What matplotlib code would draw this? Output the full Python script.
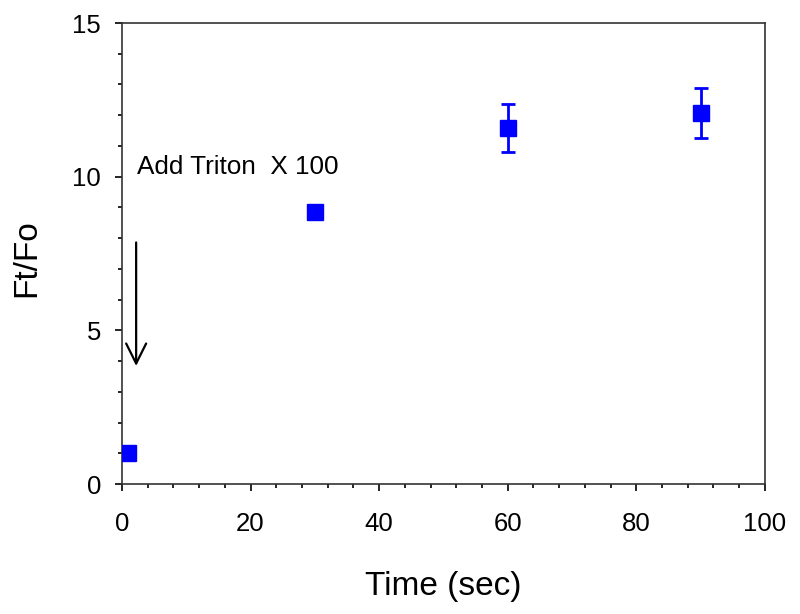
import matplotlib
matplotlib.use('Agg')
import matplotlib.pyplot as plt
from matplotlib.ticker import MultipleLocator

plt.rcParams['font.family'] = ['Liberation Sans', 'DejaVu Sans']

# datos
time_sec = [1, 30, 60, 90]
ft_fo = [1.0, 8.85, 11.57, 12.07]
ft_fo_err = [0, 0, 0.78, 0.81]

fig = plt.figure(figsize=(8, 6.14), dpi=100)
ax = fig.add_axes([0.1525, 0.2117, 0.8035, 0.7508])

# barras de error solo donde hay error
idx = [i for i, e in enumerate(ft_fo_err) if e > 0]
ax.errorbar([time_sec[i] for i in idx], [ft_fo[i] for i in idx],
            yerr=[ft_fo_err[i] for i in idx], fmt='none', ecolor='#0000ff',
            elinewidth=2, capsize=4.7, capthick=2, zorder=2)
ax.plot(time_sec, ft_fo, 's', color='#0000ff', markersize=12, zorder=3)

# flecha y texto
ax.annotate('', xy=(2.2, 3.75), xytext=(2.2, 7.95),
            arrowprops=dict(arrowstyle='->', color='black', lw=1.6,
                            mutation_scale=36))
ax.text(2.3, 10.3, 'Add Triton  X 100', fontsize=18.8, va='center', ha='left')

ax.set_xlim(0, 100)
ax.set_ylim(0, 15)
ax.xaxis.set_major_locator(MultipleLocator(20))
ax.xaxis.set_minor_locator(MultipleLocator(4))
ax.yaxis.set_major_locator(MultipleLocator(5))
ax.yaxis.set_minor_locator(MultipleLocator(1))
ax.tick_params(which='both', direction='out', top=False, right=False,
               width=1.2, labelsize=18.5)
ax.tick_params(which='major', length=5)
ax.tick_params(which='minor', length=3)
ax.tick_params(axis='x', which='major', pad=15)
ax.tick_params(axis='y', which='major', pad=10)
for sp in ax.spines.values():
    sp.set_linewidth(1.2)
    sp.set_color('#333333')

ax.set_xlabel('Time (sec)', fontsize=24, labelpad=25)
ax.set_ylabel('Ft/Fo', fontsize=24)
ax.yaxis.set_label_coords(-0.124, 0.49)

plt.savefig('out.png', dpi=100)
plt.close()
